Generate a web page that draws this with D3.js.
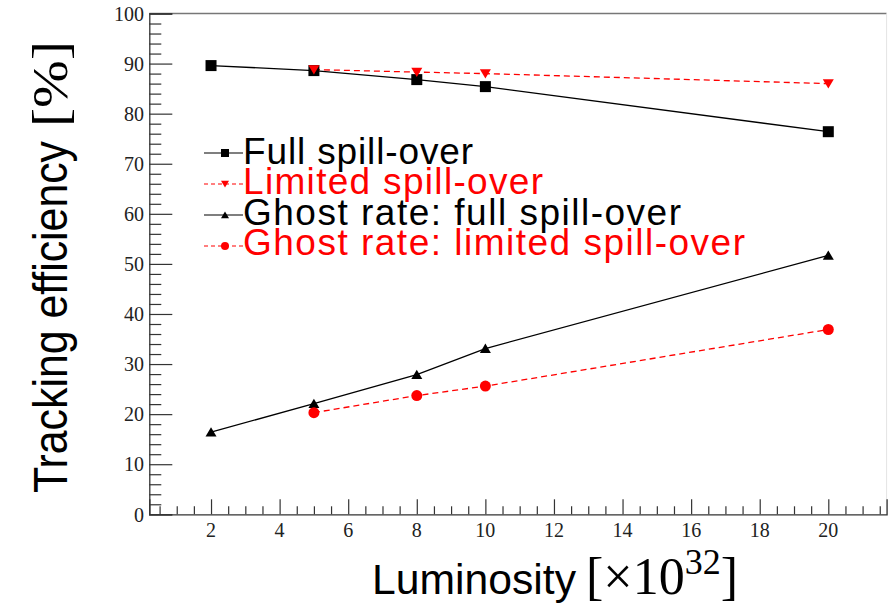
<!DOCTYPE html>
<html>
<head>
<meta charset="utf-8">
<script src="https://cdn.jsdelivr.net/npm/d3@7/dist/d3.min.js"></script>
<style>
  html, body { margin: 0; padding: 0; background: #fff; }
  svg { display: block; }
</style>
</head>
<body>
<svg id="chart" width="888" height="603"></svg>
<script>
// Luminosity points (units of 1e32)
const lumiFull = [2, 5, 8, 10, 20];
const lumiLimited = [5, 8, 10, 20];

// Tracking efficiency [%]
const effFullSpill = [89.6, 88.6, 86.8, 85.4, 76.4];
const effLimitedSpill = [88.8, 88.3, 88.0, 86.0];

// Ghost rate [%]
const ghostFullSpill = [16.4, 22.1, 27.9, 33.1, 51.7];
const ghostLimitedSpill = [20.3, 23.7, 25.6, 36.9];

// Axis ticks
const xMajorTicks = [2, 4, 6, 8, 10, 12, 14, 16, 18, 20];
const yMajorTicks = [0, 10, 20, 30, 40, 50, 60, 70, 80, 90, 100];

const legendLabels = [
  "Full spill-over",
  "Limited spill-over",
  "Ghost rate: full spill-over",
  "Ghost rate: limited spill-over"
];

const svg = d3.select("#chart");
const SANS = "'Liberation Sans', Arial, sans-serif";
const SERIF = "'Liberation Serif', 'Times New Roman', serif";
const RED = "#ff0000";

const x = d3.scaleLinear().domain([0.2, 21.7]).range([149.3, 886.6]);
const y = d3.scaleLinear().domain([0, 100]).range([514.3, 13.5]);

const [x0, x1] = x.range();
const [yb, yt] = y.range();

// Frame: top and right borders
svg.append("line").attr("x1", x0).attr("x2", x1).attr("y1", yt).attr("y2", yt)
  .attr("stroke", "#777").attr("stroke-width", 1.3);
svg.append("line").attr("x1", x1).attr("x2", x1).attr("y1", yt).attr("y2", yb)
  .attr("stroke", "#e4e4e4").attr("stroke-width", 1);

// Y axis with inward ticks
const yMinor = d3.range(0, 100.01, 2).filter(v => v % 10 !== 0);
const gy = svg.append("g").attr("transform", `translate(${x0},0)`);
gy.call(d3.axisRight(y).tickValues(yMajorTicks).tickSize(23).tickFormat(""));
const gym = svg.append("g").attr("transform", `translate(${x0},0)`);
gym.call(d3.axisRight(y).tickValues(yMinor).tickSize(12).tickFormat(""));
gym.select(".domain").remove();
[gy, gym].forEach(g => g.selectAll(".tick line").attr("stroke", "#333").attr("stroke-width", 1.2));
gy.select(".domain").attr("stroke", "#333").attr("stroke-width", 1.3);

// Y tick labels
svg.append("g").selectAll("text").data(yMajorTicks).join("text")
  .attr("x", 144).attr("y", d => y(d)).attr("dy", "0.36em")
  .attr("text-anchor", "end")
  .attr("font-family", SERIF).attr("font-size", 20).attr("fill", "#222")
  .text(d => d);

// X axis with upward ticks
const xMinor = d3.range(0.5, 21.51, 0.5).filter(v => v % 2 !== 0);
const gx = svg.append("g").attr("transform", `translate(0,${yb})`);
gx.call(d3.axisTop(x).tickValues(xMajorTicks).tickSize(15).tickFormat(""));
const gxm = svg.append("g").attr("transform", `translate(0,${yb})`);
gxm.call(d3.axisTop(x).tickValues(xMinor).tickSize(8).tickFormat(""));
gxm.select(".domain").remove();
[gx, gxm].forEach(g => g.selectAll(".tick line").attr("stroke", "#333").attr("stroke-width", 1.2));
gx.select(".domain").attr("stroke", "#333").attr("stroke-width", 1.3);

// X tick labels
svg.append("g").selectAll("text").data(xMajorTicks).join("text")
  .attr("x", d => x(d)).attr("y", 537)
  .attr("text-anchor", "middle")
  .attr("font-family", SERIF).attr("font-size", 20).attr("fill", "#222")
  .text(d => d);

// X axis title: sans word followed by a serif math part
svg.append("text").attr("x", 372).attr("y", 594)
  .attr("font-family", SANS).attr("font-size", 43).attr("fill", "#000")
  .attr("textLength", 204).attr("lengthAdjust", "spacingAndGlyphs")
  .text("Luminosity");
const xm = svg.append("text").attr("x", 586).attr("y", 594)
  .attr("font-family", SERIF).attr("font-size", 52).attr("fill", "#000");
xm.append("tspan").text("[×10");
xm.append("tspan").attr("font-size", 36).attr("dy", -20).text("32");
xm.append("tspan").attr("dy", 20).text("]");

// Y axis title
const ytg = svg.append("g").attr("transform", "translate(67,493) rotate(-90)");
ytg.append("text").attr("x", 0).attr("y", 0)
  .attr("font-family", SANS).attr("font-size", 48).attr("fill", "#000")
  .attr("textLength", 352).attr("lengthAdjust", "spacingAndGlyphs")
  .text("Tracking efficiency");
ytg.append("text").attr("x", 366).attr("y", 0)
  .attr("font-family", SERIF).attr("font-size", 50).attr("fill", "#000")
  .attr("textLength", 86).attr("lengthAdjust", "spacingAndGlyphs")
  .text("[%]");

// Series definitions
const series = [
  { xs: lumiFull, ys: effFullSpill, color: "#000", dash: null, marker: "square" },
  { xs: lumiLimited, ys: effLimitedSpill, color: RED, dash: "6,4", marker: "down" },
  { xs: lumiFull, ys: ghostFullSpill, color: "#000", dash: null, marker: "up" },
  { xs: lumiLimited, ys: ghostLimitedSpill, color: RED, dash: "6,4", marker: "circle" }
];

function markerPath(type, s) {
  const h = s / 2;
  if (type === "square") return `M${-h},${-h}H${h}V${h}H${-h}Z`;
  if (type === "down") return `M${-h},${-h * 0.8}H${h}L0,${h * 0.9}Z`;
  if (type === "up") return `M${-h},${h * 0.8}H${h}L0,${-h * 0.9}Z`;
  return null;
}

function drawMarker(g, type, cx, cy, s, color) {
  if (type === "circle") {
    g.append("circle").attr("cx", cx).attr("cy", cy).attr("r", s / 2).attr("fill", color);
  } else {
    g.append("path").attr("transform", `translate(${cx},${cy})`)
      .attr("d", markerPath(type, s)).attr("fill", color);
  }
}

const line = d3.line().x(d => x(d[0])).y(d => y(d[1]));
const plot = svg.append("g");
series.forEach(sr => {
  const pts = sr.xs.map((v, i) => [v, sr.ys[i]]);
  plot.append("path").attr("d", line(pts)).attr("fill", "none")
    .attr("stroke", sr.color).attr("stroke-width", 1.3)
    .attr("stroke-dasharray", sr.dash);
});
series.forEach(sr => {
  sr.xs.forEach((v, i) => drawMarker(plot, sr.marker, x(v), y(sr.ys[i]), 11, sr.color));
});

// Legend
const legendRows = [153, 184, 215, 246];
const legendBaselines = [164, 194, 225, 255];
const legendWidths = [230, 300, 438, 502];
const lg = svg.append("g");
series.forEach((sr, i) => {
  const ry = legendRows[i];
  lg.append("line").attr("x1", 204).attr("x2", 243).attr("y1", ry).attr("y2", ry)
    .attr("stroke", sr.color).attr("stroke-width", 1.2)
    .attr("stroke-dasharray", sr.dash ? "4,3" : null);
  drawMarker(lg, sr.marker, 225, ry, 8, sr.color);
  lg.append("text").attr("x", 243).attr("y", legendBaselines[i])
    .attr("font-family", SANS).attr("font-size", 37)
    .attr("fill", sr.color)
    .attr("textLength", legendWidths[i]).attr("lengthAdjust", "spacing")
    .text(legendLabels[i]);
});
</script>
</body>
</html>
